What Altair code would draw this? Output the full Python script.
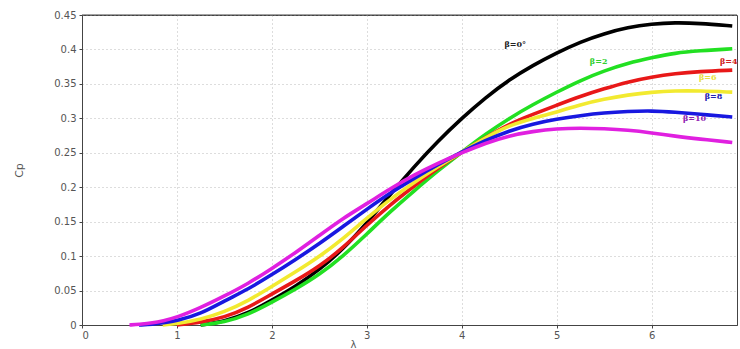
import altair as alt
import pandas as pd

# Power coefficient Cp against tip-speed ratio λ for several pitch angles β
lam = [0.5, 0.6, 0.75, 0.85, 1.0, 1.25, 1.5, 1.75, 2.0, 2.25, 2.5, 2.75, 3.0, 3.25,
       3.5, 3.75, 4.0, 4.25, 4.5, 4.75, 5.0, 5.25, 5.5, 5.75, 6.0, 6.25, 6.5, 6.85]

cp_b0 = [None, None, None, None, None, 0.0, 0.005, 0.017, 0.036, 0.056, 0.080, 0.110, 0.148, 0.190,
         0.230, 0.267, 0.300, 0.330, 0.356, 0.377, 0.395, 0.411, 0.423, 0.432, 0.437, 0.439, 0.438, 0.434]
cp_b2 = [None, None, None, None, None, 0.0, 0.004, 0.015, 0.033, 0.052, 0.073, 0.100, 0.132, 0.165,
         0.195, 0.224, 0.251, 0.277, 0.300, 0.320, 0.338, 0.355, 0.369, 0.380, 0.388, 0.395, 0.398, 0.401]
cp_b4 = [None, None, None, None, 0.0, 0.004, 0.011, 0.025, 0.045, 0.064, 0.085, 0.112, 0.145, 0.175,
         0.202, 0.228, 0.251, 0.272, 0.292, 0.306, 0.319, 0.332, 0.343, 0.353, 0.360, 0.365, 0.368, 0.370]
cp_b6 = [None, None, None, 0.0, 0.002, 0.008, 0.019, 0.035, 0.056, 0.077, 0.099, 0.125, 0.155, 0.183,
         0.207, 0.230, 0.251, 0.272, 0.290, 0.300, 0.309, 0.320, 0.328, 0.334, 0.338, 0.340, 0.340, 0.338]
cp_b8 = [None, 0.0, 0.001, 0.003, 0.006, 0.016, 0.035, 0.052, 0.073, 0.095, 0.118, 0.143, 0.168, 0.192,
         0.213, 0.233, 0.251, 0.268, 0.282, 0.292, 0.299, 0.304, 0.308, 0.310, 0.311, 0.309, 0.306, 0.302]
cp_b10 = [0.0, 0.001, 0.003, 0.006, 0.011, 0.025, 0.042, 0.060, 0.082, 0.105, 0.130, 0.155, 0.176, 0.198,
          0.218, 0.235, 0.250, 0.264, 0.275, 0.281, 0.285, 0.286, 0.285, 0.283, 0.279, 0.274, 0.270, 0.265]

series_names = ["β=0°", "β=2", "β=4", "β=6", "β=8", "β=10"]
series_values = [cp_b0, cp_b2, cp_b4, cp_b6, cp_b8, cp_b10]
series_colors = ["#000000", "#22e022", "#e81818", "#f2ea30", "#1818e0", "#e020e0"]

# curve labels placed inside the plot (λ, Cp)
label_x = [4.45, 5.35, 6.72, 6.5, 6.56, 6.33]
label_y = [0.406, 0.382, 0.382, 0.358, 0.331, 0.299]
label_colors = ["#222222", "#30d030", "#d02020", "#e8e040", "#2020b0", "#9020b0"]

x_ticks = [0, 1, 2, 3, 4, 5, 6]
y_ticks = [0, 0.05, 0.1, 0.15, 0.2, 0.25, 0.3, 0.35, 0.4, 0.45]
y_top = 0.45

x_scale = alt.Scale(domain=[0, 6.9], nice=False, zero=False)
y_scale = alt.Scale(domain=[0, y_top], nice=False)

x_axis = alt.Axis(values=x_ticks, title="λ", grid=True, gridDash=[1, 3], gridColor="#bbbbbb",
                  labelFont="DejaVu Sans", labelFontSize=10, labelColor="#555555",
                  titleFont="DejaVu Sans", titleFontSize=10, titleFontWeight="normal",
                  titleColor="#555555", titleX=271, titleY=14, titleBaseline="top",
                  domainColor="#444444", tickColor="#444444", tickSize=3, labelPadding=2)
y_axis = alt.Axis(values=y_ticks, title="Cp", format=".2~f", grid=True, gridDash=[1, 3],
                  gridColor="#bbbbbb", labelFont="DejaVu Sans", labelFontSize=10,
                  labelColor="#555555", titleFont="DejaVu Sans", titleFontSize=11,
                  titleFontWeight="normal", titleColor="#555555", titleX=-58,
                  domainColor="#444444", tickColor="#444444", tickSize=3, labelPadding=3)

layers = []
for name, vals, col in zip(series_names, series_values, series_colors):
    df = pd.DataFrame({"lam": lam, "cp": vals}).dropna()
    line = alt.Chart(df).mark_line(color=col, strokeWidth=3.6, interpolate="basis").encode(
        x=alt.X("lam:Q", scale=x_scale, axis=x_axis),
        y=alt.Y("cp:Q", scale=y_scale, axis=y_axis),
    )
    layers.append(line)

labels_df = pd.DataFrame({"text": series_names, "lam": label_x, "cp": label_y,
                          "color": label_colors})
labels = alt.Chart(labels_df).mark_text(
    align="left", baseline="middle", font="DejaVu Serif", fontSize=8, fontWeight="bold"
).encode(
    x=alt.X("lam:Q", scale=x_scale, axis=x_axis),
    y=alt.Y("cp:Q", scale=y_scale, axis=y_axis),
    text="text:N",
    color=alt.Color("color:N", scale=None),
)
layers.append(labels)

# solid top edge of the plot box, drawn above the dotted grid
top_edge = alt.Chart().mark_rule(color="#444444", strokeWidth=1).encode(
    y=alt.datum(y_top, scale=y_scale, axis=y_axis),
    x=alt.value(0), x2=alt.value(655),
)
layers.append(top_edge)

chart = alt.layer(*layers).properties(
    width=655, height=310,
    padding={"left": 82, "top": 15, "right": 3, "bottom": 24},
    autosize=alt.AutoSizeParams(type="none"),
    background="white",
).configure_view(stroke="#444444", strokeWidth=1)

chart.save("out.html", embed_options={"renderer": "svg", "actions": False})
